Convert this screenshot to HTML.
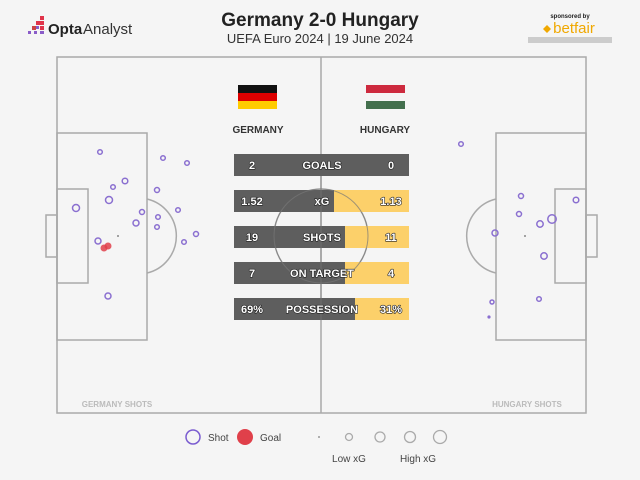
<!DOCTYPE html>
<html><head><meta charset="utf-8"><style>
html,body{margin:0;padding:0;background:#f5f5f5;}
svg{display:block;font-family:"Liberation Sans",sans-serif;}
</style></head><body>
<svg width="640" height="480" viewBox="0 0 640 480" xmlns="http://www.w3.org/2000/svg">
<rect width="640" height="480" fill="#f5f5f5"/>
<g fill="#e0344a"><rect x="40" y="16" width="4" height="4"/><rect x="36" y="21" width="4" height="4"/><rect x="40" y="21" width="4" height="4"/><rect x="32" y="26" width="4" height="4" fill="#c44"/><rect x="40" y="26" width="4" height="4"/></g>
<g fill="#8a5cc8"><rect x="28" y="31" width="3" height="3"/><rect x="34" y="31" width="3" height="3"/><rect x="40" y="31" width="4" height="3"/><rect x="36" y="26" width="3" height="3"/></g>
<text x="48" y="34" font-size="15" font-weight="bold" fill="#222">Opta</text>
<text x="83" y="34" font-size="15" fill="#333">Analyst</text>
<text x="320" y="26" text-anchor="middle" font-size="19" font-weight="bold" fill="#222">Germany 2-0 Hungary</text>
<text x="320" y="43" text-anchor="middle" font-size="13" fill="#333">UEFA Euro 2024 | 19 June 2024</text>
<text x="570" y="18" text-anchor="middle" font-size="6" font-weight="bold" fill="#222">sponsored by</text>
<path d="M543 29 l4 -4 l4 4 l-4 4z" fill="#f0a800"/>
<text x="574" y="33" text-anchor="middle" font-size="15" fill="#f0a800">betfair</text>
<rect x="528" y="37" width="84" height="6" fill="#ccc"/>
<g fill="none" stroke="#aaa" stroke-width="1.5">
<rect x="57" y="57" width="529" height="356"/>
<line x1="321" y1="57" x2="321" y2="413"/>
<circle cx="321" cy="236" r="47"/>
<rect x="57" y="133" width="90" height="207"/>
<rect x="57" y="189" width="31" height="94"/>
<rect x="46" y="215" width="11" height="42"/>
<path d="M147 199 A38 38 0 0 1 147 273"/>
<rect x="496" y="133" width="90" height="207"/>
<rect x="555" y="189" width="31" height="94"/>
<rect x="586" y="215" width="11" height="42"/>
<path d="M496 199 A38 38 0 0 0 496 273"/>
</g>
<text x="117" y="407" text-anchor="middle" font-size="8" font-weight="bold" fill="#bbb">GERMANY SHOTS</text>
<text x="527" y="407" text-anchor="middle" font-size="8" font-weight="bold" fill="#bbb">HUNGARY SHOTS</text>
<rect x="238" y="85" width="39" height="8" fill="#111"/><rect x="238" y="93" width="39" height="8" fill="#d00"/><rect x="238" y="101" width="39" height="8" fill="#fc0"/>
<rect x="366" y="85" width="39" height="8" fill="#cd2a3e"/><rect x="366" y="93" width="39" height="8" fill="#f5f5f5"/><rect x="366" y="101" width="39" height="8" fill="#436f4d"/>
<text x="258" y="133" text-anchor="middle" font-size="10" font-weight="bold" fill="#333">GERMANY</text>
<text x="385" y="133" text-anchor="middle" font-size="10" font-weight="bold" fill="#333">HUNGARY</text>
<rect x="234" y="154" width="175" height="22" fill="#5e5e5e"/>
<rect x="234" y="190" width="175" height="22" fill="#fcd06a"/><rect x="234" y="190" width="100" height="22" fill="#5e5e5e"/>
<rect x="234" y="226" width="175" height="22" fill="#fcd06a"/><rect x="234" y="226" width="111" height="22" fill="#5e5e5e"/>
<rect x="234" y="262" width="175" height="22" fill="#fcd06a"/><rect x="234" y="262" width="111" height="22" fill="#5e5e5e"/>
<rect x="234" y="298" width="175" height="22" fill="#fcd06a"/><rect x="234" y="298" width="121" height="22" fill="#5e5e5e"/>
<circle cx="321" cy="236" r="47" fill="none" stroke="#777" stroke-width="1" opacity="0.7"/>
<line x1="321" y1="176" x2="321" y2="320" stroke="#777" stroke-width="1" opacity="0.7"/>
<g font-size="11" font-weight="bold" fill="#fff" stroke="#222" stroke-width="1.2" paint-order="stroke" stroke-linejoin="round">
<text x="252" y="169" text-anchor="middle">2</text><text x="322" y="169" text-anchor="middle">GOALS</text><text x="391" y="169" text-anchor="middle">0</text>
<text x="252" y="205" text-anchor="middle">1.52</text><text x="322" y="205" text-anchor="middle">xG</text><text x="391" y="205" text-anchor="middle">1.13</text>
<text x="252" y="241" text-anchor="middle">19</text><text x="322" y="241" text-anchor="middle">SHOTS</text><text x="391" y="241" text-anchor="middle">11</text>
<text x="252" y="277" text-anchor="middle">7</text><text x="322" y="277" text-anchor="middle">ON TARGET</text><text x="391" y="277" text-anchor="middle">4</text>
<text x="252" y="313" text-anchor="middle">69%</text><text x="322" y="313" text-anchor="middle">POSSESSION</text><text x="391" y="313" text-anchor="middle">31%</text>
</g>
<g fill="none" stroke="#8a6fd0" stroke-width="1.5">
<circle cx="100" cy="152" r="2.3"/><circle cx="163" cy="158" r="2.3"/><circle cx="187" cy="163" r="2.3"/>
<circle cx="125" cy="181" r="2.8"/><circle cx="113" cy="187" r="2.3"/><circle cx="157" cy="190" r="2.5"/>
<circle cx="109" cy="200" r="3.5"/><circle cx="76" cy="208" r="3.5"/><circle cx="178" cy="210" r="2.3"/>
<circle cx="142" cy="212" r="2.5"/><circle cx="158" cy="217" r="2.3"/><circle cx="136" cy="223" r="3"/>
<circle cx="157" cy="227" r="2.3"/><circle cx="196" cy="234" r="2.5"/><circle cx="184" cy="242" r="2.3"/>
<circle cx="98" cy="241" r="3"/><circle cx="108" cy="296" r="3"/>
<circle cx="461" cy="144" r="2.3"/><circle cx="521" cy="196" r="2.5"/><circle cx="576" cy="200" r="2.8"/>
<circle cx="519" cy="214" r="2.5"/><circle cx="552" cy="219" r="4.2"/><circle cx="540" cy="224" r="3.2"/>
<circle cx="495" cy="233" r="3"/><circle cx="544" cy="256" r="3.2"/><circle cx="492" cy="302" r="2"/>
<circle cx="539" cy="299" r="2.3"/>
</g>
<circle cx="489" cy="317" r="1.6" fill="#8a6fd0"/>
<circle cx="118" cy="236" r="1" fill="#888"/><circle cx="525" cy="236" r="1" fill="#888"/>
<circle cx="104" cy="248" r="3.5" fill="#e0404a" opacity="0.85"/><circle cx="108" cy="246" r="3.5" fill="#e0404a" opacity="0.85"/>
<circle cx="193" cy="437" r="7" fill="none" stroke="#7a5cd0" stroke-width="1.5"/>
<text x="208" y="441" font-size="10" fill="#444">Shot</text>
<circle cx="245" cy="437" r="8" fill="#e0404a"/>
<text x="260" y="441" font-size="10" fill="#444">Goal</text>
<circle cx="319" cy="437" r="1" fill="#999"/>
<g fill="none" stroke="#aaa" stroke-width="1.3"><circle cx="349" cy="437" r="3.5"/><circle cx="380" cy="437" r="5"/><circle cx="410" cy="437" r="5.5"/><circle cx="440" cy="437" r="6.5"/></g>
<text x="349" y="462" text-anchor="middle" font-size="10" fill="#444">Low xG</text>
<text x="418" y="462" text-anchor="middle" font-size="10" fill="#444">High xG</text>
</svg>
</body></html>
